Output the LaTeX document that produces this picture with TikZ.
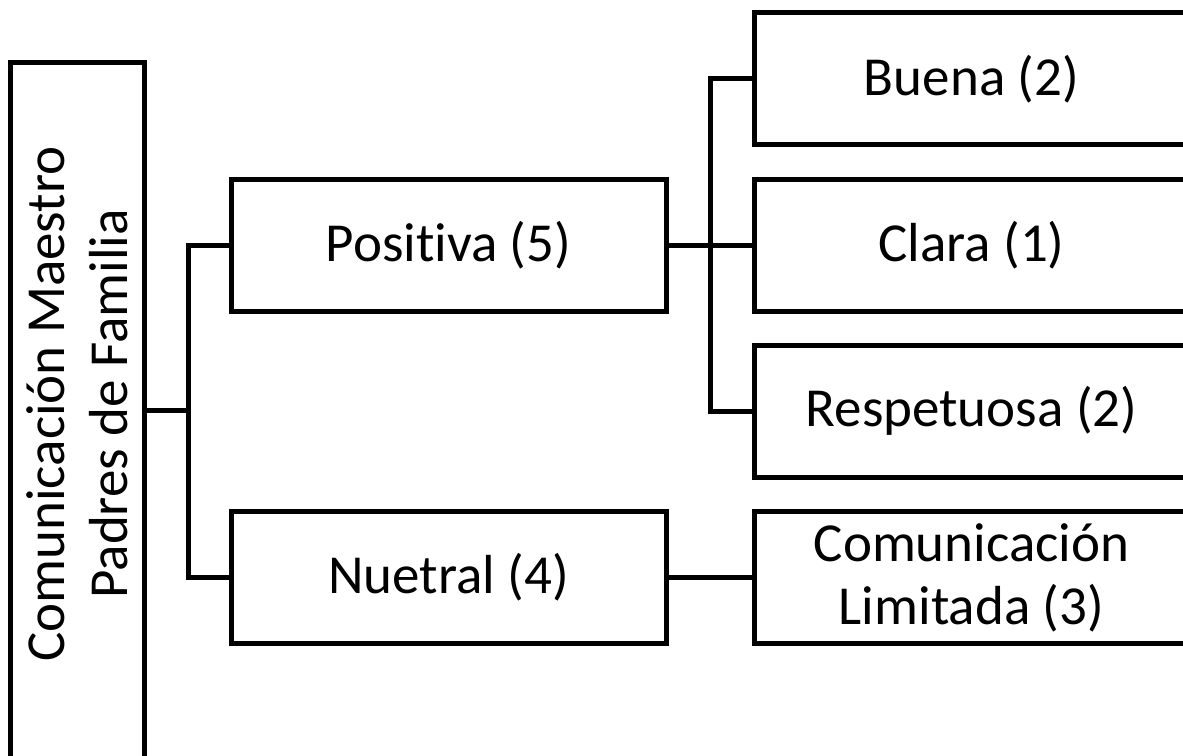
\documentclass[tikz,border=0pt]{standalone}
\usepackage{fontspec}
\setmainfont[Ligatures={NoCommon}]{Carlito}
\begin{document}
\begin{tikzpicture}[x=1pt,y=-1pt,
  box/.style={draw=black, line width=5pt, fill=white, inner sep=0pt,
              minimum width=435pt, minimum height=132pt},
  label/.style={font=\fontsize{55}{63}\selectfont, align=center, inner sep=0pt},
  link/.style={draw=black, line width=5pt}]
  \useasboundingbox (0,0) rectangle (1183,755);
  \clip (0,0) rectangle (1183,755);

  % root box (tall, vertical text)
  \node[box, minimum width=133.5pt, minimum height=696pt] (root) at (77.25,410) {};
  \node[label, rotate=90] (rootlabel) at (77,404) {Comunicación Maestro\\Padres de Familia};

  % second level
  \node[box] (pos) at (448.5,245) {};
  \node[label] (poslabel) at (pos.center) {Positiva (5)};
  \node[box] (neu) at (448.5,577.5) {};
  \node[label] (neulabel) at (neu.center) {Nuetral (4)};

  % third level
  \node[box] (buena) at (971.5,78.75) {};
  \node[label] (buenalabel) at (buena.center) {Buena (2)};
  \node[box] (clara) at (971.5,245) {};
  \node[label] (claralabel) at (clara.center) {Clara (1)};
  \node[box] (resp) at (971.5,411) {};
  \node[label] (resplabel) at (resp.center) {Respetuosa (2)};
  \node[box] (lim) at (971.5,577.5) {};
  \node[label] (limlabel) at (lim.center) {Comunicación\\Limitada (3)};

  % connectors
  \coordinate (j1) at (188,410);
  \coordinate (j2) at (710,245);
  \draw[link] (root.east) -- (j1);
  \draw[link] (pos.west) -| (j1) |- (neu.west);
  \draw[link] (pos.east) -- (j2);
  \draw[link] (buena.west) -| (j2) |- (resp.west);
  \draw[link] (j2) -- (clara.west);
  \draw[link] (neu.east) -- (lim.west);
\end{tikzpicture}
\end{document}
